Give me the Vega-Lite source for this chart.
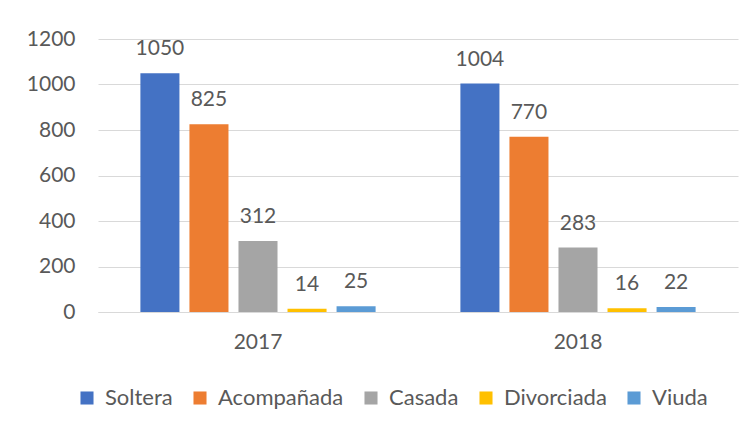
{
  "$schema": "https://vega.github.io/schema/vega-lite/v6.json",
  "width": 640,
  "height": 273,
  "autosize": {"type": "none"},
  "padding": {"left": 98, "top": 39, "right": 18, "bottom": 119},
  "background": "#ffffff",
  "config": {
    "view": {"stroke": null},
    "font": "Lato",
    "axis": {"labelFont": "Lato", "labelFontSize": 21, "labelColor": "#595959", "ticks": false, "title": null}
  },
  "data": {
    "values": [
      {"year": "2017", "estado": "Soltera", "n": 1050},
      {"year": "2017", "estado": "Acompañada", "n": 825},
      {"year": "2017", "estado": "Casada", "n": 312},
      {"year": "2017", "estado": "Divorciada", "n": 14},
      {"year": "2017", "estado": "Viuda", "n": 25},
      {"year": "2018", "estado": "Soltera", "n": 1004},
      {"year": "2018", "estado": "Acompañada", "n": 770},
      {"year": "2018", "estado": "Casada", "n": 283},
      {"year": "2018", "estado": "Divorciada", "n": 16},
      {"year": "2018", "estado": "Viuda", "n": 22}
    ]
  },
  "encoding": {
    "x": {
      "field": "year", "type": "nominal",
      "scale": {"paddingInner": 0.265, "paddingOuter": 0.1325},
      "axis": {"labelAngle": 0, "labelPadding": 19, "domainColor": "#D9D9D9", "domainWidth": 1, "grid": false}
    },
    "xOffset": {
      "field": "estado", "type": "nominal",
      "sort": ["Soltera", "Acompañada", "Casada", "Divorciada", "Viuda"],
      "scale": {"paddingInner": 0.204, "paddingOuter": 0}
    },
    "y": {
      "field": "n", "type": "quantitative",
      "scale": {"domain": [0, 1200], "nice": false},
      "axis": {"values": [0, 200, 400, 600, 800, 1000, 1200], "format": "d", "grid": true, "gridColor": "#D9D9D9", "gridWidth": 1, "domain": false, "labelPadding": 23}
    }
  },
  "layer": [
    {
      "mark": {"type": "bar"},
      "encoding": {
        "color": {
          "field": "estado", "type": "nominal",
          "sort": ["Soltera", "Acompañada", "Casada", "Divorciada", "Viuda"],
          "scale": {
            "domain": ["Soltera", "Acompañada", "Casada", "Divorciada", "Viuda"],
            "range": ["#4472C4", "#ED7D31", "#A5A5A5", "#FFC000", "#5B9BD5"]
          },
          "legend": {
            "title": null,
            "orient": "none",
            "direction": "horizontal",
            "legendX": -22,
            "legendY": 348,
            "symbolType": "square",
            "symbolSize": 170,
            "symbolStrokeWidth": 0,
            "labelFont": "Lato",
            "labelFontSize": 22,
            "labelColor": "#595959",
            "labelOffset": 7,
            "columnPadding": 16
          }
        }
      }
    },
    {
      "mark": {"type": "text", "baseline": "alphabetic", "dy": -18, "font": "Lato", "fontSize": 21, "color": "#595959"},
      "encoding": {"text": {"field": "n", "type": "quantitative"}}
    }
  ]
}
